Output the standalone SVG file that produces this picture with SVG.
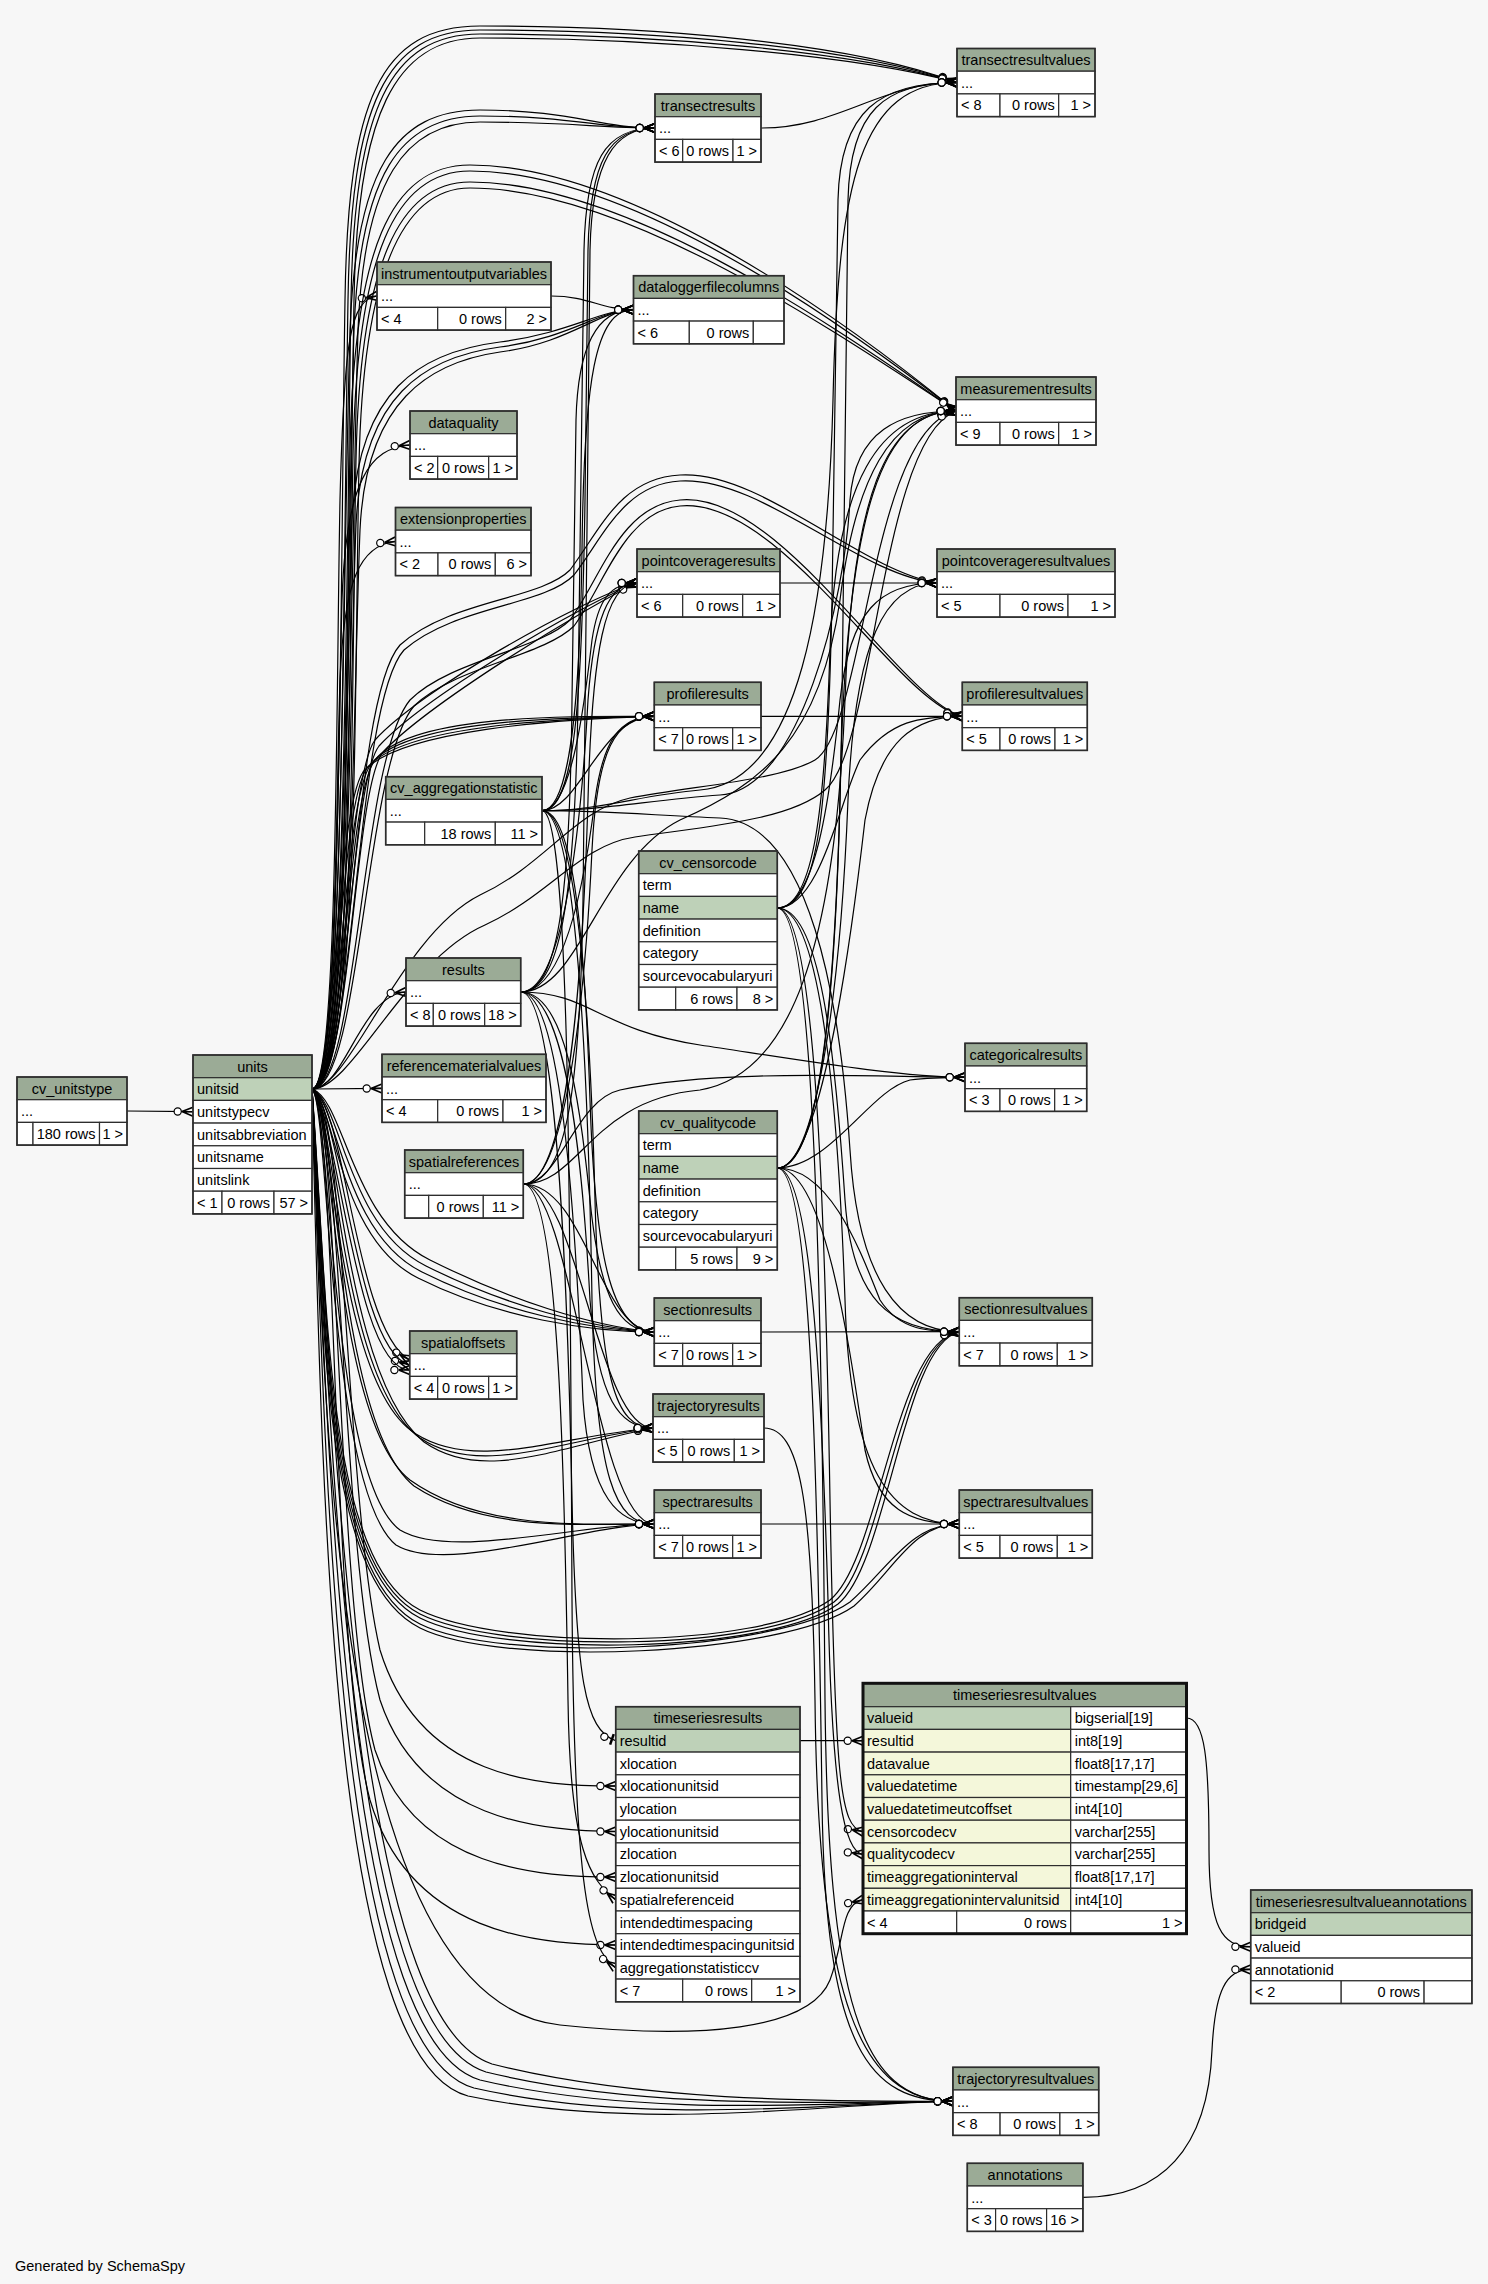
<svg xmlns="http://www.w3.org/2000/svg" width="1488" height="2284" viewBox="0 0 1488 2284">
<style>
text{font-family:"Liberation Sans",Arial,Helvetica,sans-serif;font-size:14.5px;fill:#000}
.m{text-anchor:middle}
.e{text-anchor:end}
.n rect{stroke:#2d2d2d;stroke-width:1.2}
.n rect.o{fill:none;stroke:#2d2d2d;stroke-width:1.6}
.n rect.ob{fill:none;stroke:#111;stroke-width:3}
.h{fill:#9bab96}
.p{fill:#bed1b8}
.w{fill:#fff}
.y{fill:#f4f7da}
#connectors path{fill:none;stroke:#000;stroke-width:1.2;marker-end:url(#m)}
#connectors path.t{marker-end:url(#t)}
</style>
<defs>
<marker id="m" viewBox="-22 -8 24 16" refX="0" refY="0" markerWidth="24" markerHeight="16" markerUnits="userSpaceOnUse" orient="auto">
<path d="M-11,0 L0,-4.5 M-11,0 L0,0 M-11,0 L0,4.5" fill="none" stroke="#000" stroke-width="1.6"/>
<circle cx="-15.3" cy="0" r="3.6" fill="#fff" stroke="#000" stroke-width="1.2"/>
</marker>
<marker id="t" viewBox="-22 -8 24 16" refX="0" refY="0" markerWidth="24" markerHeight="16" markerUnits="userSpaceOnUse" orient="auto">
<path d="M-4,-5.5 L-4,5.5" fill="none" stroke="#000" stroke-width="2.5"/>
<circle cx="-12" cy="0" r="3.6" fill="#fff" stroke="#000" stroke-width="1.2"/>
</marker>
</defs>
<rect x="0" y="0" width="1488" height="2284" fill="#f7f7f7"/>

<g id="connectors">
<path d="M127,1111 L193,1111.7"/>
<!-- units -> transectresultvalues -->
<path d="M312,1089 C342,1089 340,600 345,300 C348,100 380,26 480,26 C650,26 850,42 957,82.5"/>
<path d="M312,1089 C344,1089 343,600 348,300 C351,105 385,30 480,30 C650,30 850,46 957,82.5"/>
<path d="M312,1089 C346,1089 346,600 351,300 C354,110 390,34 480,34 C650,34 850,50 957,82.5"/>
<path d="M312,1089 C348,1089 349,600 354,300 C357,115 395,38 480,38 C650,38 850,54 957,82.5"/>
<!-- units -> transectresults -->
<path d="M312,1089 C344,1089 342,600 350,330 C356,170 395,110 480,110 C570,110 600,128 655,128"/>
<path d="M312,1089 C347,1089 346,600 354,330 C360,175 400,116 480,116 C570,116 600,128 655,128"/>
<path d="M312,1089 C350,1089 350,600 358,330 C364,180 405,122 480,122 C570,122 600,128 655,128"/>
<!-- units -> instrumentoutputvariables -->
<path d="M312,1089 C338,1089 336,700 340,500 C344,340 350,300 377,296"/>
<!-- units -> dataloggerfilecolumns -->
<path d="M312,1089 C348,1089 345,700 352,520 C358,390 420,352 500,342 C570,333 600,309.7 633.5,309.7"/>
<path d="M312,1089 C351,1089 349,700 356,525 C362,395 425,357 500,347 C570,338 600,309.7 633.5,309.7"/>
<path d="M312,1089 C354,1089 353,700 360,530 C366,400 430,362 500,352 C570,343 600,309.7 633.5,309.7"/>
<!-- units -> measurementresults -->
<path d="M312,1089 C350,1089 345,700 350,450 C354,250 390,165 470,165 C620,165 820,300 956,411"/>
<path d="M312,1089 C353,1089 348,700 353,455 C357,255 395,171 470,171 C620,171 820,306 956,411"/>
<path d="M312,1089 C356,1089 351,700 356,460 C360,262 400,182 470,182 C620,182 815,312 956,411"/>
<path d="M312,1089 C359,1089 354,700 359,465 C363,268 405,188 470,188 C620,188 815,318 956,411"/>
<path d="M312,1089 C350,1089 400,935 480,895 C545,865 575,810 630,798 C700,785 780,780 815,760 C865,730 870,430 956,411"/>
<path d="M312,1089 C353,1089 405,960 485,925 C550,895 580,845 635,837 C710,826 790,820 825,790 C875,750 880,440 956,411"/>
<!-- units -> dataquality / extensionproperties -->
<path d="M312,1089 C338,1089 338,750 342,600 C346,480 370,448 410,445"/>
<path d="M312,1089 C336,1089 336,800 340,680 C344,580 360,545 395.5,541.5"/>
<!-- units -> pointcoverageresults -->
<path d="M312,1089 C345,1089 345,780 375,740 C420,690 580,600 637,583"/>
<path d="M312,1089 C348,1089 349,785 379,746 C424,697 582,604 637,583"/>
<path d="M312,1089 C351,1089 353,790 383,752 C428,704 584,608 637,583"/>
<!-- units -> pointcoverageresultvalues -->
<path d="M312,1089 C352,1089 350,700 400,645 C450,600 540,600 570,570 C600,530 620,478 680,475 C760,470 860,570 937,583"/>
<path d="M312,1089 C355,1089 354,705 404,650 C454,606 544,606 574,575 C604,536 624,484 680,481 C760,476 858,575 937,583"/>
<!-- units -> profileresultvalues -->
<path d="M312,1089 C358,1089 360,760 410,700 C450,660 540,650 570,620 C600,580 620,505 680,500 C780,490 900,700 962.3,716.3"/>
<path d="M312,1089 C361,1089 364,765 414,706 C454,667 544,656 574,626 C604,586 624,511 680,506 C780,496 898,703 962.3,716.3"/>
<!-- units -> profileresults -->
<path d="M312,1089 C345,1089 345,800 375,760 C410,715 560,716 654.3,716.3"/>
<path d="M312,1089 C342,1089 341,805 371,764 C406,720 560,717 654.3,716.3"/>
<path d="M312,1089 C339,1089 338,810 367,768 C402,725 560,718 654.3,716.3"/>
<path d="M312,1089 C336,1089 335,815 363,772 C398,730 560,719 654.3,716.3"/>
<!-- units -> results / referencematerialvalues -->
<path d="M312,1089 C345,1089 360,995 406,992"/>
<path d="M312,1089 L382,1088.4"/>
<!-- units -> sectionresults -->
<path d="M312,1089 C345,1100 350,1220 430,1260 C510,1300 590,1326 654.3,1332"/>
<path d="M312,1089 C342,1102 346,1226 426,1266 C506,1306 590,1328 654.3,1332"/>
<path d="M312,1089 C339,1104 342,1232 422,1272 C502,1312 590,1330 654.3,1332"/>
<path d="M312,1089 C336,1106 338,1238 418,1278 C498,1318 590,1332 654.3,1332"/>
<!-- units -> spatialoffsets -->
<path d="M312,1089 C345,1100 355,1330 409.7,1360"/>
<path d="M312,1089 C342,1110 355,1350 409.7,1365"/>
<path d="M312,1089 C339,1120 355,1370 409.7,1370"/>
<!-- units -> trajectoryresults -->
<path d="M312,1089 C335,1100 338,1380 420,1438 C480,1478 560,1440 653,1428"/>
<path d="M312,1089 C338,1100 342,1376 424,1442 C484,1484 560,1446 653,1428"/>
<path d="M312,1089 C333,1100 334,1384 416,1434 C476,1472 560,1436 653,1428"/>
<!-- units -> spectraresults -->
<path d="M312,1089 C333,1100 332,1420 410,1480 C480,1530 580,1524 654.3,1524"/>
<path d="M312,1089 C336,1100 336,1425 414,1486 C484,1532 580,1524 654.3,1524"/>
<path d="M312,1089 C331,1100 330,1480 400,1530 C450,1560 580,1524 654.3,1524"/>
<path d="M312,1089 C329,1100 328,1490 396,1545 C446,1575 580,1526 654.3,1524"/>
<!-- units -> timeseriesresults -->
<path d="M312,1089 C345,1089 345,1500 380,1650 C420,1780 540,1786 615.7,1786"/>
<path d="M312,1089 C342,1100 340,1550 380,1700 C420,1820 540,1831.5 615.7,1831.5"/>
<path d="M312,1089 C340,1110 335,1600 375,1750 C415,1870 540,1877 615.7,1877"/>
<path d="M312,1089 C338,1120 330,1650 370,1800 C410,1935 540,1945 615.7,1945"/>
<!-- units -> sectionresultvalues / spectraresultvalues -->
<path d="M312,1089 C328,1300 325,1560 420,1610 C500,1650 760,1650 830,1600 C880,1560 895,1340 959.3,1332"/>
<path d="M312,1089 C327,1300 323,1564 420,1614 C500,1654 765,1652 834,1602 C884,1562 899,1342 959.3,1332"/>
<path d="M312,1089 C326,1300 321,1568 420,1618 C500,1658 770,1654 838,1604 C888,1564 903,1344 959.3,1332"/>
<path d="M312,1089 C325,1300 320,1574 420,1624 C500,1664 780,1652 850,1602 C890,1567 910,1524 959.3,1524"/>
<path d="M312,1089 C324,1300 318,1578 420,1628 C500,1668 784,1656 854,1606 C894,1571 912,1524 959.3,1524"/>
<!-- units -> timeseriesresultvalues -->
<path d="M312,1089 C325,1400 330,2000 560,2025 C700,2040 810,2030 830,1980 C845,1940 840,1905 863,1899.7"/>
<!-- units -> trajectoryresultvalues -->
<path d="M312,1089 C330,1500 345,2040 480,2080 C650,2120 850,2101 952.9,2101.3"/>
<path d="M312,1089 C334,1500 352,2030 486,2072 C650,2112 850,2101 952.9,2101.3"/>
<path d="M312,1089 C326,1500 338,2050 474,2088 C650,2128 850,2101 952.9,2101.3"/>
<path d="M312,1089 C338,1500 360,2020 492,2064 C650,2104 850,2101 952.9,2101.3"/>
<path d="M312,1089 C322,1500 331,2060 468,2096 C650,2134 850,2101 952.9,2101.3"/>
<!-- results -->
<path d="M520.7,992 C560,992 575,900 578,700 L584,250 C586,160 605,128 655,128"/>
<path d="M520.7,992 C558,992 570,900 572,700 L576,420 C578,340 600,309.7 633.5,309.7"/>
<path d="M520.7,992 C580,992 600,860 680,820 C760,785 820,740 840,600 C855,480 890,411 956,411"/>
<path d="M520.7,992 C560,992 580,850 588,700 C594,620 608,583 637,583"/>
<path d="M520.7,992 C565,992 585,880 595,800 C603,740 620,716.3 654.3,716.3"/>
<path d="M520.7,992 C590,992 600,1030 700,1045 C800,1060 900,1077.3 965,1077.3"/>
<path d="M520.7,992 C565,992 580,1100 590,1200 C600,1300 620,1332 654.3,1332"/>
<path d="M520.7,992 C565,992 582,1150 590,1300 C598,1400 620,1428 653,1428"/>
<path d="M520.7,992 C560,992 575,1200 583,1400 C590,1500 620,1524 654.3,1524"/>
<path class="t" d="M520.7,992 C558,992 568,1300 572,1500 C576,1680 585,1730 615.7,1740.7"/>
<!-- spatialreferences -->
<path d="M523.3,1184 C565,1184 580,1100 583,900 L590,250 C592,160 615,128 655,128"/>
<path d="M523.3,1184 C580,1184 590,1100 700,1090 C790,1075 835,950 845,700 C852,500 885,411 956,411"/>
<path d="M523.3,1184 C565,1184 582,1000 588,800 C592,650 605,583 637,583"/>
<path d="M523.3,1184 C565,1184 585,1000 592,850 C597,750 615,716.3 654.3,716.3"/>
<path d="M523.3,1184 C560,1184 575,1100 620,1090 C720,1068 880,1077.3 965,1077.3"/>
<path d="M523.3,1184 C585,1184 600,1332 654.3,1332"/>
<path d="M523.3,1184 C578,1184 598,1428 653,1428"/>
<path d="M523.3,1184 C572,1184 595,1524 654.3,1524"/>
<path d="M523.3,1184 C560,1184 565,1500 568,1700 C570,1850 590,1880 615.7,1899.7"/>
<!-- cv_aggregationstatistic -->
<path d="M542,810.7 C575,810.7 582,700 585,500 L588,250 C590,160 610,128 655,128"/>
<path d="M542,810.7 C600,810.7 640,795 700,790 C800,782 828,600 833,400 C838,180 860,82.5 957,82.5"/>
<path d="M542,810.7 C600,810.7 650,800 720,795 C800,790 845,600 850,500 C855,430 900,411 956,411"/>
<path d="M542,810.7 C572,810.7 585,700 592,640 C598,600 610,583 637,583"/>
<path d="M542,810.7 C580,810.7 600,716.3 654.3,716.3"/>
<path d="M542,810.7 C570,810.7 580,700 582,550 C584,380 595,309.7 633.5,309.7"/>
<path d="M542,810.7 C575,810.7 585,950 590,1100 C595,1250 610,1332 654.3,1332"/>
<path d="M542,810.7 C600,810.7 650,815 720,818 C810,822 840,1000 850,1150 C858,1280 900,1331.7 959.3,1331.7"/>
<path d="M542,810.7 C575,810.7 590,1000 595,1200 C600,1380 615,1428 653,1428"/>
<path d="M542,810.7 C575,810.7 588,1050 592,1300 C596,1480 615,1524 654.3,1524"/>
<path d="M542,810.7 C570,810.7 570,1200 572,1600 C574,1900 590,1950 615.7,1967.7"/>
<!-- cv_censorcode -->
<path d="M777.3,908 C820,908 828,800 832,600 L838,200 C840,110 880,82.5 957,82.5"/>
<path d="M777.3,908 C815,908 825,800 830,650 C835,480 880,411 956,411"/>
<path d="M777.3,908 C815,908 830,800 840,700 C850,610 880,583 937,583"/>
<path d="M777.3,908 C820,908 840,800 860,760 C890,720 920,716.3 962.3,716.3"/>
<path d="M777.3,908 C820,908 835,1050 845,1200 C852,1300 890,1331.7 959.3,1331.7"/>
<path d="M777.3,908 C820,908 838,1100 845,1300 C850,1470 890,1524 959.3,1524"/>
<path d="M777.3,908 C815,908 825,1200 830,1500 C835,1780 840,1828 863,1831.5"/>
<path d="M777.3,908 C815,908 822,1300 825,1700 C828,2000 860,2101.3 952.9,2101.3"/>
<!-- cv_qualitycode -->
<path d="M777.3,1168 C820,1168 838,1000 842,700 L848,200 C850,110 885,82.5 957,82.5"/>
<path d="M777.3,1168 C820,1168 835,1000 840,800 C845,500 885,411 956,411"/>
<path d="M777.3,1168 C815,1168 840,1000 848,800 C855,640 885,583 937,583"/>
<path d="M777.3,1168 C820,1168 850,950 865,820 C880,740 915,716.3 962.3,716.3"/>
<path d="M777.3,1168 C830,1168 870,1090 910,1080 C930,1077.3 950,1077.3 965,1077.3"/>
<path d="M777.3,1168 C830,1168 860,1250 880,1300 C900,1331 930,1331.7 959.3,1331.7"/>
<path d="M777.3,1168 C825,1168 850,1350 865,1450 C878,1510 910,1524 959.3,1524"/>
<path d="M777.3,1168 C812,1168 822,1400 828,1600 C832,1800 845,1852 863,1854.3"/>
<path d="M777.3,1168 C812,1168 818,1500 822,1800 C825,2050 870,2101.3 952.9,2101.3"/>
<!-- results tables -> values tables -->
<path d="M761,128 C840,128 880,82.5 957,82.5"/>
<path d="M780,583 L937,583"/>
<path d="M761,716.3 L962.3,716.3"/>
<path d="M761,1332 L959.3,1331.7"/>
<path d="M761,1524 L959.3,1524"/>
<path d="M764,1428 C800,1428 812,1500 815,1700 C818,2000 860,2101.3 952.9,2101.3"/>
<path d="M800,1740.7 L863,1740.7"/>
<path d="M1186.5,1718 C1205,1718 1209,1760 1209,1850 C1209,1928 1222,1946.7 1250.7,1946.7"/>
<path d="M1082.9,2197.3 C1160,2197.3 1208,2150 1212,2050 C1215,1990 1226,1969.4 1250.7,1969.4"/>
<path d="M551,296 C590,296 600,309.7 633.5,309.7"/>
</g>

<g id="node-cv_unitstype" class="n">
<rect class="h" x="17" y="1077" width="110" height="22.7"/>
<rect class="w" x="17" y="1099.7" width="110" height="22.7"/>
<rect class="w" x="17" y="1122.4" width="16" height="22.7"/>
<rect class="w" x="33" y="1122.4" width="66.5" height="22.7"/>
<rect class="w" x="99.5" y="1122.4" width="27.5" height="22.7"/>
<rect class="o" x="17" y="1077" width="110" height="68.1"/>
<text class="m" x="72" y="1093.5">cv_unitstype</text>
<text x="21" y="1116.2">...</text>
<text class="e" x="95.5" y="1138.9">180 rows</text>
<text class="e" x="123" y="1138.9">1 &gt;</text>
</g>

<g id="node-units" class="n">
<rect class="h" x="193" y="1055" width="119" height="22.7"/>
<rect class="p" x="193" y="1077.7" width="119" height="22.7"/>
<rect class="w" x="193" y="1100.4" width="119" height="22.7"/>
<rect class="w" x="193" y="1123.1" width="119" height="22.7"/>
<rect class="w" x="193" y="1145.8" width="119" height="22.7"/>
<rect class="w" x="193" y="1168.5" width="119" height="22.7"/>
<rect class="w" x="193" y="1191.2" width="29" height="22.7"/>
<rect class="w" x="222" y="1191.2" width="52" height="22.7"/>
<rect class="w" x="274" y="1191.2" width="38" height="22.7"/>
<rect class="o" x="193" y="1055" width="119" height="158.9"/>
<text class="m" x="252.5" y="1071.5">units</text>
<text x="197" y="1094.2">unitsid</text>
<text x="197" y="1116.9">unitstypecv</text>
<text x="197" y="1139.6">unitsabbreviation</text>
<text x="197" y="1162.3">unitsname</text>
<text x="197" y="1185">unitslink</text>
<text x="197" y="1207.7">&lt; 1</text>
<text class="e" x="270" y="1207.7">0 rows</text>
<text class="e" x="308" y="1207.7">57 &gt;</text>
</g>

<g id="node-transectresults" class="n">
<rect class="h" x="655" y="94" width="106" height="22.7"/>
<rect class="w" x="655" y="116.7" width="106" height="22.7"/>
<rect class="w" x="655" y="139.4" width="27.7" height="22.7"/>
<rect class="w" x="682.7" y="139.4" width="50.3" height="22.7"/>
<rect class="w" x="733" y="139.4" width="28" height="22.7"/>
<rect class="o" x="655" y="94" width="106" height="68.1"/>
<text class="m" x="708" y="110.5">transectresults</text>
<text x="659" y="133.2">...</text>
<text x="659" y="155.9">&lt; 6</text>
<text class="e" x="729" y="155.9">0 rows</text>
<text class="e" x="757" y="155.9">1 &gt;</text>
</g>

<g id="node-instrumentoutputvariables" class="n">
<rect class="h" x="377" y="262" width="174" height="22.7"/>
<rect class="w" x="377" y="284.7" width="174" height="22.7"/>
<rect class="w" x="377" y="307.4" width="60.7" height="22.7"/>
<rect class="w" x="437.7" y="307.4" width="68" height="22.7"/>
<rect class="w" x="505.7" y="307.4" width="45.3" height="22.7"/>
<rect class="o" x="377" y="262" width="174" height="68.1"/>
<text class="m" x="464" y="278.5">instrumentoutputvariables</text>
<text x="381" y="301.2">...</text>
<text x="381" y="323.9">&lt; 4</text>
<text class="e" x="501.7" y="323.9">0 rows</text>
<text class="e" x="547" y="323.9">2 &gt;</text>
</g>

<g id="node-dataloggerfilecolumns" class="n">
<rect class="h" x="633.5" y="275.7" width="150.5" height="22.7"/>
<rect class="w" x="633.5" y="298.4" width="150.5" height="22.7"/>
<rect class="w" x="633.5" y="321.1" width="55.8" height="22.7"/>
<rect class="w" x="689.3" y="321.1" width="64" height="22.7"/>
<rect class="w" x="753.3" y="321.1" width="30.7" height="22.7"/>
<rect class="o" x="633.5" y="275.7" width="150.5" height="68.1"/>
<text class="m" x="708.75" y="292.2">dataloggerfilecolumns</text>
<text x="637.5" y="314.9">...</text>
<text x="637.5" y="337.6">&lt; 6</text>
<text class="e" x="749.3" y="337.6">0 rows</text>
</g>

<g id="node-transectresultvalues" class="n">
<rect class="h" x="957" y="48.5" width="138" height="22.7"/>
<rect class="w" x="957" y="71.2" width="138" height="22.7"/>
<rect class="w" x="957" y="93.9" width="43" height="22.7"/>
<rect class="w" x="1000" y="93.9" width="58.7" height="22.7"/>
<rect class="w" x="1058.7" y="93.9" width="36.3" height="22.7"/>
<rect class="o" x="957" y="48.5" width="138" height="68.1"/>
<text class="m" x="1026" y="65">transectresultvalues</text>
<text x="961" y="87.7">...</text>
<text x="961" y="110.4">&lt; 8</text>
<text class="e" x="1054.7" y="110.4">0 rows</text>
<text class="e" x="1091" y="110.4">1 &gt;</text>
</g>

<g id="node-measurementresults" class="n">
<rect class="h" x="956" y="377" width="140" height="22.7"/>
<rect class="w" x="956" y="399.7" width="140" height="22.7"/>
<rect class="w" x="956" y="422.4" width="44" height="22.7"/>
<rect class="w" x="1000" y="422.4" width="58.7" height="22.7"/>
<rect class="w" x="1058.7" y="422.4" width="37.3" height="22.7"/>
<rect class="o" x="956" y="377" width="140" height="68.1"/>
<text class="m" x="1026" y="393.5">measurementresults</text>
<text x="960" y="416.2">...</text>
<text x="960" y="438.9">&lt; 9</text>
<text class="e" x="1054.7" y="438.9">0 rows</text>
<text class="e" x="1092" y="438.9">1 &gt;</text>
</g>

<g id="node-dataquality" class="n">
<rect class="h" x="410" y="411" width="107" height="22.7"/>
<rect class="w" x="410" y="433.7" width="107" height="22.7"/>
<rect class="w" x="410" y="456.4" width="27.7" height="22.7"/>
<rect class="w" x="437.7" y="456.4" width="51" height="22.7"/>
<rect class="w" x="488.7" y="456.4" width="28.3" height="22.7"/>
<rect class="o" x="410" y="411" width="107" height="68.1"/>
<text class="m" x="463.5" y="427.5">dataquality</text>
<text x="414" y="450.2">...</text>
<text x="414" y="472.9">&lt; 2</text>
<text class="e" x="484.7" y="472.9">0 rows</text>
<text class="e" x="513" y="472.9">1 &gt;</text>
</g>

<g id="node-extensionproperties" class="n">
<rect class="h" x="395.5" y="507.5" width="135.5" height="22.7"/>
<rect class="w" x="395.5" y="530.2" width="135.5" height="22.7"/>
<rect class="w" x="395.5" y="552.9" width="42.5" height="22.7"/>
<rect class="w" x="438" y="552.9" width="57.3" height="22.7"/>
<rect class="w" x="495.3" y="552.9" width="35.7" height="22.7"/>
<rect class="o" x="395.5" y="507.5" width="135.5" height="68.1"/>
<text class="m" x="463.25" y="524">extensionproperties</text>
<text x="399.5" y="546.7">...</text>
<text x="399.5" y="569.4">&lt; 2</text>
<text class="e" x="491.3" y="569.4">0 rows</text>
<text class="e" x="527" y="569.4">6 &gt;</text>
</g>

<g id="node-pointcoverageresults" class="n">
<rect class="h" x="637" y="549" width="143" height="22.7"/>
<rect class="w" x="637" y="571.7" width="143" height="22.7"/>
<rect class="w" x="637" y="594.4" width="45.7" height="22.7"/>
<rect class="w" x="682.7" y="594.4" width="60" height="22.7"/>
<rect class="w" x="742.7" y="594.4" width="37.3" height="22.7"/>
<rect class="o" x="637" y="549" width="143" height="68.1"/>
<text class="m" x="708.5" y="565.5">pointcoverageresults</text>
<text x="641" y="588.2">...</text>
<text x="641" y="610.9">&lt; 6</text>
<text class="e" x="738.7" y="610.9">0 rows</text>
<text class="e" x="776" y="610.9">1 &gt;</text>
</g>

<g id="node-pointcoverageresultvalues" class="n">
<rect class="h" x="937" y="549" width="178" height="22.7"/>
<rect class="w" x="937" y="571.7" width="178" height="22.7"/>
<rect class="w" x="937" y="594.4" width="63" height="22.7"/>
<rect class="w" x="1000" y="594.4" width="68" height="22.7"/>
<rect class="w" x="1068" y="594.4" width="47" height="22.7"/>
<rect class="o" x="937" y="549" width="178" height="68.1"/>
<text class="m" x="1026" y="565.5">pointcoverageresultvalues</text>
<text x="941" y="588.2">...</text>
<text x="941" y="610.9">&lt; 5</text>
<text class="e" x="1064" y="610.9">0 rows</text>
<text class="e" x="1111" y="610.9">1 &gt;</text>
</g>

<g id="node-profileresults" class="n">
<rect class="h" x="654.3" y="682.3" width="106.7" height="22.7"/>
<rect class="w" x="654.3" y="705" width="106.7" height="22.7"/>
<rect class="w" x="654.3" y="727.7" width="28.4" height="22.7"/>
<rect class="w" x="682.7" y="727.7" width="50" height="22.7"/>
<rect class="w" x="732.7" y="727.7" width="28.3" height="22.7"/>
<rect class="o" x="654.3" y="682.3" width="106.7" height="68.1"/>
<text class="m" x="707.65" y="698.8">profileresults</text>
<text x="658.3" y="721.5">...</text>
<text x="658.3" y="744.2">&lt; 7</text>
<text class="e" x="728.7" y="744.2">0 rows</text>
<text class="e" x="757" y="744.2">1 &gt;</text>
</g>

<g id="node-profileresultvalues" class="n">
<rect class="h" x="962.3" y="682.3" width="125" height="22.7"/>
<rect class="w" x="962.3" y="705" width="125" height="22.7"/>
<rect class="w" x="962.3" y="727.7" width="37.7" height="22.7"/>
<rect class="w" x="1000" y="727.7" width="55" height="22.7"/>
<rect class="w" x="1055" y="727.7" width="32.3" height="22.7"/>
<rect class="o" x="962.3" y="682.3" width="125" height="68.1"/>
<text class="m" x="1024.8" y="698.8">profileresultvalues</text>
<text x="966.3" y="721.5">...</text>
<text x="966.3" y="744.2">&lt; 5</text>
<text class="e" x="1051" y="744.2">0 rows</text>
<text class="e" x="1083.3" y="744.2">1 &gt;</text>
</g>

<g id="node-cv_aggregationstatistic" class="n">
<rect class="h" x="385.7" y="776.7" width="156.3" height="22.7"/>
<rect class="w" x="385.7" y="799.4" width="156.3" height="22.7"/>
<rect class="w" x="385.7" y="822.1" width="39" height="22.7"/>
<rect class="w" x="424.7" y="822.1" width="70.6" height="22.7"/>
<rect class="w" x="495.3" y="822.1" width="46.7" height="22.7"/>
<rect class="o" x="385.7" y="776.7" width="156.3" height="68.1"/>
<text class="m" x="463.85" y="793.2">cv_aggregationstatistic</text>
<text x="389.7" y="815.9">...</text>
<text class="e" x="491.3" y="838.6">18 rows</text>
<text class="e" x="538" y="838.6">11 &gt;</text>
</g>

<g id="node-cv_censorcode" class="n">
<rect class="h" x="638.7" y="851" width="138.6" height="22.7"/>
<rect class="w" x="638.7" y="873.7" width="138.6" height="22.7"/>
<rect class="p" x="638.7" y="896.4" width="138.6" height="22.7"/>
<rect class="w" x="638.7" y="919.1" width="138.6" height="22.7"/>
<rect class="w" x="638.7" y="941.8" width="138.6" height="22.7"/>
<rect class="w" x="638.7" y="964.5" width="138.6" height="22.7"/>
<rect class="w" x="638.7" y="987.2" width="37" height="22.7"/>
<rect class="w" x="675.7" y="987.2" width="61.3" height="22.7"/>
<rect class="w" x="737" y="987.2" width="40.3" height="22.7"/>
<rect class="o" x="638.7" y="851" width="138.6" height="158.9"/>
<text class="m" x="708" y="867.5">cv_censorcode</text>
<text x="642.7" y="890.2">term</text>
<text x="642.7" y="912.9">name</text>
<text x="642.7" y="935.6">definition</text>
<text x="642.7" y="958.3">category</text>
<text x="642.7" y="981">sourcevocabularyuri</text>
<text class="e" x="733" y="1003.7">6 rows</text>
<text class="e" x="773.3" y="1003.7">8 &gt;</text>
</g>

<g id="node-results" class="n">
<rect class="h" x="406" y="958" width="114.7" height="22.7"/>
<rect class="w" x="406" y="980.7" width="114.7" height="22.7"/>
<rect class="w" x="406" y="1003.4" width="27.3" height="22.7"/>
<rect class="w" x="433.3" y="1003.4" width="51.4" height="22.7"/>
<rect class="w" x="484.7" y="1003.4" width="36" height="22.7"/>
<rect class="o" x="406" y="958" width="114.7" height="68.1"/>
<text class="m" x="463.35" y="974.5">results</text>
<text x="410" y="997.2">...</text>
<text x="410" y="1019.9">&lt; 8</text>
<text class="e" x="480.7" y="1019.9">0 rows</text>
<text class="e" x="516.7" y="1019.9">18 &gt;</text>
</g>

<g id="node-referencematerialvalues" class="n">
<rect class="h" x="382" y="1054.3" width="164" height="22.7"/>
<rect class="w" x="382" y="1077" width="164" height="22.7"/>
<rect class="w" x="382" y="1099.7" width="55.7" height="22.7"/>
<rect class="w" x="437.7" y="1099.7" width="65.3" height="22.7"/>
<rect class="w" x="503" y="1099.7" width="43" height="22.7"/>
<rect class="o" x="382" y="1054.3" width="164" height="68.1"/>
<text class="m" x="464" y="1070.8">referencematerialvalues</text>
<text x="386" y="1093.5">...</text>
<text x="386" y="1116.2">&lt; 4</text>
<text class="e" x="499" y="1116.2">0 rows</text>
<text class="e" x="542" y="1116.2">1 &gt;</text>
</g>

<g id="node-categoricalresults" class="n">
<rect class="h" x="965" y="1043.3" width="121.7" height="22.7"/>
<rect class="w" x="965" y="1066" width="121.7" height="22.7"/>
<rect class="w" x="965" y="1088.7" width="35" height="22.7"/>
<rect class="w" x="1000" y="1088.7" width="54.7" height="22.7"/>
<rect class="w" x="1054.7" y="1088.7" width="32" height="22.7"/>
<rect class="o" x="965" y="1043.3" width="121.7" height="68.1"/>
<text class="m" x="1025.85" y="1059.8">categoricalresults</text>
<text x="969" y="1082.5">...</text>
<text x="969" y="1105.2">&lt; 3</text>
<text class="e" x="1050.7" y="1105.2">0 rows</text>
<text class="e" x="1082.7" y="1105.2">1 &gt;</text>
</g>

<g id="node-spatialreferences" class="n">
<rect class="h" x="404.7" y="1150" width="118.6" height="22.7"/>
<rect class="w" x="404.7" y="1172.7" width="118.6" height="22.7"/>
<rect class="w" x="404.7" y="1195.4" width="24" height="22.7"/>
<rect class="w" x="428.7" y="1195.4" width="54.6" height="22.7"/>
<rect class="w" x="483.3" y="1195.4" width="40" height="22.7"/>
<rect class="o" x="404.7" y="1150" width="118.6" height="68.1"/>
<text class="m" x="464" y="1166.5">spatialreferences</text>
<text x="408.7" y="1189.2">...</text>
<text class="e" x="479.3" y="1211.9">0 rows</text>
<text class="e" x="519.3" y="1211.9">11 &gt;</text>
</g>

<g id="node-cv_qualitycode" class="n">
<rect class="h" x="638.7" y="1111" width="138.6" height="22.7"/>
<rect class="w" x="638.7" y="1133.7" width="138.6" height="22.7"/>
<rect class="p" x="638.7" y="1156.4" width="138.6" height="22.7"/>
<rect class="w" x="638.7" y="1179.1" width="138.6" height="22.7"/>
<rect class="w" x="638.7" y="1201.8" width="138.6" height="22.7"/>
<rect class="w" x="638.7" y="1224.5" width="138.6" height="22.7"/>
<rect class="w" x="638.7" y="1247.2" width="37" height="22.7"/>
<rect class="w" x="675.7" y="1247.2" width="61.3" height="22.7"/>
<rect class="w" x="737" y="1247.2" width="40.3" height="22.7"/>
<rect class="o" x="638.7" y="1111" width="138.6" height="158.9"/>
<text class="m" x="708" y="1127.5">cv_qualitycode</text>
<text x="642.7" y="1150.2">term</text>
<text x="642.7" y="1172.9">name</text>
<text x="642.7" y="1195.6">definition</text>
<text x="642.7" y="1218.3">category</text>
<text x="642.7" y="1241">sourcevocabularyuri</text>
<text class="e" x="733" y="1263.7">5 rows</text>
<text class="e" x="773.3" y="1263.7">9 &gt;</text>
</g>

<g id="node-sectionresults" class="n">
<rect class="h" x="654.3" y="1298" width="106.7" height="22.7"/>
<rect class="w" x="654.3" y="1320.7" width="106.7" height="22.7"/>
<rect class="w" x="654.3" y="1343.4" width="28.4" height="22.7"/>
<rect class="w" x="682.7" y="1343.4" width="50" height="22.7"/>
<rect class="w" x="732.7" y="1343.4" width="28.3" height="22.7"/>
<rect class="o" x="654.3" y="1298" width="106.7" height="68.1"/>
<text class="m" x="707.65" y="1314.5">sectionresults</text>
<text x="658.3" y="1337.2">...</text>
<text x="658.3" y="1359.9">&lt; 7</text>
<text class="e" x="728.7" y="1359.9">0 rows</text>
<text class="e" x="757" y="1359.9">1 &gt;</text>
</g>

<g id="node-sectionresultvalues" class="n">
<rect class="h" x="959.3" y="1297.7" width="133" height="22.7"/>
<rect class="w" x="959.3" y="1320.4" width="133" height="22.7"/>
<rect class="w" x="959.3" y="1343.1" width="40.7" height="22.7"/>
<rect class="w" x="1000" y="1343.1" width="57.3" height="22.7"/>
<rect class="w" x="1057.3" y="1343.1" width="35" height="22.7"/>
<rect class="o" x="959.3" y="1297.7" width="133" height="68.1"/>
<text class="m" x="1025.8" y="1314.2">sectionresultvalues</text>
<text x="963.3" y="1336.9">...</text>
<text x="963.3" y="1359.6">&lt; 7</text>
<text class="e" x="1053.3" y="1359.6">0 rows</text>
<text class="e" x="1088.3" y="1359.6">1 &gt;</text>
</g>

<g id="node-spatialoffsets" class="n">
<rect class="h" x="409.7" y="1331" width="107" height="22.7"/>
<rect class="w" x="409.7" y="1353.7" width="107" height="22.7"/>
<rect class="w" x="409.7" y="1376.4" width="28" height="22.7"/>
<rect class="w" x="437.7" y="1376.4" width="51" height="22.7"/>
<rect class="w" x="488.7" y="1376.4" width="28" height="22.7"/>
<rect class="o" x="409.7" y="1331" width="107" height="68.1"/>
<text class="m" x="463.2" y="1347.5">spatialoffsets</text>
<text x="413.7" y="1370.2">...</text>
<text x="413.7" y="1392.9">&lt; 4</text>
<text class="e" x="484.7" y="1392.9">0 rows</text>
<text class="e" x="512.7" y="1392.9">1 &gt;</text>
</g>

<g id="node-trajectoryresults" class="n">
<rect class="h" x="653" y="1394" width="111" height="22.7"/>
<rect class="w" x="653" y="1416.7" width="111" height="22.7"/>
<rect class="w" x="653" y="1439.4" width="29.7" height="22.7"/>
<rect class="w" x="682.7" y="1439.4" width="51.6" height="22.7"/>
<rect class="w" x="734.3" y="1439.4" width="29.7" height="22.7"/>
<rect class="o" x="653" y="1394" width="111" height="68.1"/>
<text class="m" x="708.5" y="1410.5">trajectoryresults</text>
<text x="657" y="1433.2">...</text>
<text x="657" y="1455.9">&lt; 5</text>
<text class="e" x="730.3" y="1455.9">0 rows</text>
<text class="e" x="760" y="1455.9">1 &gt;</text>
</g>

<g id="node-spectraresults" class="n">
<rect class="h" x="654.3" y="1490" width="106.7" height="22.7"/>
<rect class="w" x="654.3" y="1512.7" width="106.7" height="22.7"/>
<rect class="w" x="654.3" y="1535.4" width="28.4" height="22.7"/>
<rect class="w" x="682.7" y="1535.4" width="50" height="22.7"/>
<rect class="w" x="732.7" y="1535.4" width="28.3" height="22.7"/>
<rect class="o" x="654.3" y="1490" width="106.7" height="68.1"/>
<text class="m" x="707.65" y="1506.5">spectraresults</text>
<text x="658.3" y="1529.2">...</text>
<text x="658.3" y="1551.9">&lt; 7</text>
<text class="e" x="728.7" y="1551.9">0 rows</text>
<text class="e" x="757" y="1551.9">1 &gt;</text>
</g>

<g id="node-spectraresultvalues" class="n">
<rect class="h" x="959.3" y="1490" width="133" height="22.7"/>
<rect class="w" x="959.3" y="1512.7" width="133" height="22.7"/>
<rect class="w" x="959.3" y="1535.4" width="40.7" height="22.7"/>
<rect class="w" x="1000" y="1535.4" width="57.3" height="22.7"/>
<rect class="w" x="1057.3" y="1535.4" width="35" height="22.7"/>
<rect class="o" x="959.3" y="1490" width="133" height="68.1"/>
<text class="m" x="1025.8" y="1506.5">spectraresultvalues</text>
<text x="963.3" y="1529.2">...</text>
<text x="963.3" y="1551.9">&lt; 5</text>
<text class="e" x="1053.3" y="1551.9">0 rows</text>
<text class="e" x="1088.3" y="1551.9">1 &gt;</text>
</g>

<g id="node-timeseriesresults" class="n">
<rect class="h" x="615.7" y="1706.7" width="184.3" height="22.7"/>
<rect class="p" x="615.7" y="1729.4" width="184.3" height="22.7"/>
<rect class="w" x="615.7" y="1752.1" width="184.3" height="22.7"/>
<rect class="w" x="615.7" y="1774.8" width="184.3" height="22.7"/>
<rect class="w" x="615.7" y="1797.5" width="184.3" height="22.7"/>
<rect class="w" x="615.7" y="1820.2" width="184.3" height="22.7"/>
<rect class="w" x="615.7" y="1842.9" width="184.3" height="22.7"/>
<rect class="w" x="615.7" y="1865.6" width="184.3" height="22.7"/>
<rect class="w" x="615.7" y="1888.3" width="184.3" height="22.7"/>
<rect class="w" x="615.7" y="1911" width="184.3" height="22.7"/>
<rect class="w" x="615.7" y="1933.7" width="184.3" height="22.7"/>
<rect class="w" x="615.7" y="1956.4" width="184.3" height="22.7"/>
<rect class="w" x="615.7" y="1979.1" width="67" height="22.7"/>
<rect class="w" x="682.7" y="1979.1" width="69" height="22.7"/>
<rect class="w" x="751.7" y="1979.1" width="48.3" height="22.7"/>
<rect class="o" x="615.7" y="1706.7" width="184.3" height="295.1"/>
<text class="m" x="707.85" y="1723.2">timeseriesresults</text>
<text x="619.7" y="1745.9">resultid</text>
<text x="619.7" y="1768.6">xlocation</text>
<text x="619.7" y="1791.3">xlocationunitsid</text>
<text x="619.7" y="1814">ylocation</text>
<text x="619.7" y="1836.7">ylocationunitsid</text>
<text x="619.7" y="1859.4">zlocation</text>
<text x="619.7" y="1882.1">zlocationunitsid</text>
<text x="619.7" y="1904.8">spatialreferenceid</text>
<text x="619.7" y="1927.5">intendedtimespacing</text>
<text x="619.7" y="1950.2">intendedtimespacingunitsid</text>
<text x="619.7" y="1972.9">aggregationstatisticcv</text>
<text x="619.7" y="1995.6">&lt; 7</text>
<text class="e" x="747.7" y="1995.6">0 rows</text>
<text class="e" x="796" y="1995.6">1 &gt;</text>
</g>

<g id="node-timeseriesresultvalues" class="n">
<rect class="h" x="863" y="1683.3" width="323.5" height="23.4"/>
<rect class="p" x="863" y="1706.7" width="207.7" height="22.7"/>
<rect class="w" x="1070.7" y="1706.7" width="115.8" height="22.7"/>
<rect class="y" x="863" y="1729.4" width="207.7" height="22.7"/>
<rect class="w" x="1070.7" y="1729.4" width="115.8" height="22.7"/>
<rect class="y" x="863" y="1752.1" width="207.7" height="22.7"/>
<rect class="w" x="1070.7" y="1752.1" width="115.8" height="22.7"/>
<rect class="y" x="863" y="1774.8" width="207.7" height="22.7"/>
<rect class="w" x="1070.7" y="1774.8" width="115.8" height="22.7"/>
<rect class="y" x="863" y="1797.5" width="207.7" height="22.7"/>
<rect class="w" x="1070.7" y="1797.5" width="115.8" height="22.7"/>
<rect class="y" x="863" y="1820.2" width="207.7" height="22.7"/>
<rect class="w" x="1070.7" y="1820.2" width="115.8" height="22.7"/>
<rect class="y" x="863" y="1842.9" width="207.7" height="22.7"/>
<rect class="w" x="1070.7" y="1842.9" width="115.8" height="22.7"/>
<rect class="y" x="863" y="1865.6" width="207.7" height="22.7"/>
<rect class="w" x="1070.7" y="1865.6" width="115.8" height="22.7"/>
<rect class="y" x="863" y="1888.3" width="207.7" height="22.7"/>
<rect class="w" x="1070.7" y="1888.3" width="115.8" height="22.7"/>
<rect class="w" x="863" y="1911" width="93.7" height="22.7"/>
<rect class="w" x="956.7" y="1911" width="114" height="22.7"/>
<rect class="w" x="1070.7" y="1911" width="115.8" height="22.7"/>
<rect class="ob" x="863" y="1683.3" width="323.5" height="250.4"/>
<text class="m" x="1024.75" y="1700.2">timeseriesresultvalues</text>
<text x="867" y="1723.2">valueid</text>
<text x="1074.7" y="1723.2">bigserial[19]</text>
<text x="867" y="1745.9">resultid</text>
<text x="1074.7" y="1745.9">int8[19]</text>
<text x="867" y="1768.6">datavalue</text>
<text x="1074.7" y="1768.6">float8[17,17]</text>
<text x="867" y="1791.3">valuedatetime</text>
<text x="1074.7" y="1791.3">timestamp[29,6]</text>
<text x="867" y="1814">valuedatetimeutcoffset</text>
<text x="1074.7" y="1814">int4[10]</text>
<text x="867" y="1836.7">censorcodecv</text>
<text x="1074.7" y="1836.7">varchar[255]</text>
<text x="867" y="1859.4">qualitycodecv</text>
<text x="1074.7" y="1859.4">varchar[255]</text>
<text x="867" y="1882.1">timeaggregationinterval</text>
<text x="1074.7" y="1882.1">float8[17,17]</text>
<text x="867" y="1904.8">timeaggregationintervalunitsid</text>
<text x="1074.7" y="1904.8">int4[10]</text>
<text x="867" y="1927.5">&lt; 4</text>
<text class="e" x="1066.7" y="1927.5">0 rows</text>
<text class="e" x="1182.5" y="1927.5">1 &gt;</text>
</g>

<g id="node-timeseriesresultvalueannotations" class="n">
<rect class="h" x="1250.7" y="1890" width="221.2" height="22.7"/>
<rect class="p" x="1250.7" y="1912.7" width="221.2" height="22.7"/>
<rect class="w" x="1250.7" y="1935.4" width="221.2" height="22.7"/>
<rect class="w" x="1250.7" y="1958.1" width="221.2" height="22.7"/>
<rect class="w" x="1250.7" y="1980.8" width="90.5" height="22.7"/>
<rect class="w" x="1341.2" y="1980.8" width="82.9" height="22.7"/>
<rect class="w" x="1424.1" y="1980.8" width="47.8" height="22.7"/>
<rect class="o" x="1250.7" y="1890" width="221.2" height="113.5"/>
<text class="m" x="1361.3" y="1906.5">timeseriesresultvalueannotations</text>
<text x="1254.7" y="1929.2">bridgeid</text>
<text x="1254.7" y="1951.9">valueid</text>
<text x="1254.7" y="1974.6">annotationid</text>
<text x="1254.7" y="1997.3">&lt; 2</text>
<text class="e" x="1420.1" y="1997.3">0 rows</text>
</g>

<g id="node-trajectoryresultvalues" class="n">
<rect class="h" x="952.9" y="2067.3" width="145.8" height="22.7"/>
<rect class="w" x="952.9" y="2090" width="145.8" height="22.7"/>
<rect class="w" x="952.9" y="2112.7" width="47.2" height="22.7"/>
<rect class="w" x="1000.1" y="2112.7" width="59.8" height="22.7"/>
<rect class="w" x="1059.9" y="2112.7" width="38.8" height="22.7"/>
<rect class="o" x="952.9" y="2067.3" width="145.8" height="68.1"/>
<text class="m" x="1025.8" y="2083.8">trajectoryresultvalues</text>
<text x="956.9" y="2106.5">...</text>
<text x="956.9" y="2129.2">&lt; 8</text>
<text class="e" x="1055.9" y="2129.2">0 rows</text>
<text class="e" x="1094.7" y="2129.2">1 &gt;</text>
</g>

<g id="node-annotations" class="n">
<rect class="h" x="967.3" y="2163.3" width="115.6" height="22.7"/>
<rect class="w" x="967.3" y="2186" width="115.6" height="22.7"/>
<rect class="w" x="967.3" y="2208.7" width="28.3" height="22.7"/>
<rect class="w" x="995.6" y="2208.7" width="51" height="22.7"/>
<rect class="w" x="1046.6" y="2208.7" width="36.3" height="22.7"/>
<rect class="o" x="967.3" y="2163.3" width="115.6" height="68.1"/>
<text class="m" x="1025.1" y="2179.8">annotations</text>
<text x="971.3" y="2202.5">...</text>
<text x="971.3" y="2225.2">&lt; 3</text>
<text class="e" x="1042.6" y="2225.2">0 rows</text>
<text class="e" x="1078.9" y="2225.2">16 &gt;</text>
</g>

<text x="15" y="2271">Generated by SchemaSpy</text>
</svg>
